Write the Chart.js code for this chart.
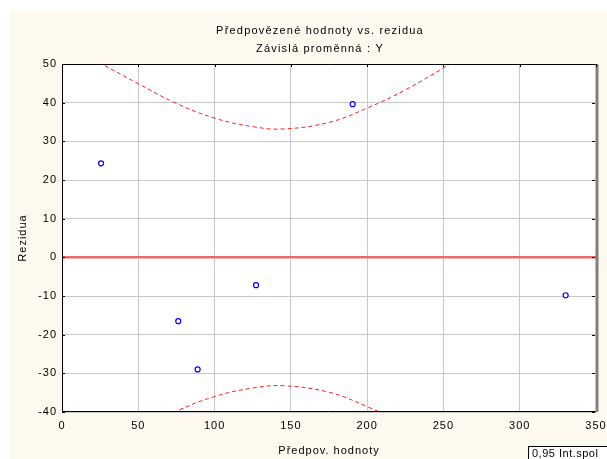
<!DOCTYPE html>
<html>
    <head>
        <meta charset="utf-8">
        <title>Předpovězené hodnoty vs. rezidua</title>
		<script src="https://cdn.jsdelivr.net/npm/chart.js@4/dist/chart.umd.min.js"></script>
		<style>
			body { margin: 0; background: #ffffff; }
			#wrap { width: 607px; height: 459px; }
		</style>
    </head>
    <body>
        <div id="wrap"><canvas id="myChart" width="607" height="459"></canvas></div>

        <script>
		// texts
		var chartTitle = "Předpovězené hodnoty vs. rezidua";
		var chartSubtitle = "Závislá proměnná : Y";
		var xTitle = "Předpov. hodnoty";
		var yTitle = "Rezidua";
		var legendText = "0,95 Int.spol";

		// observations: predicted value vs residual
		var predicted = [25.6, 76.2, 88.9, 127.2, 190.5, 330.1];
		var residuals = [24.3, -16.5, -29.0, -7.2, 39.6, -9.8];

		// 0.95 confidence band
		var bandX = [20, 50, 75, 100, 125, 145, 175, 200, 225, 260];
		var bandUpper = [51.3, 44.9, 39.8, 36.0, 33.8, 33.2, 34.9, 38.6, 43.3, 51.3];
		var bandLower = [-51.3, -44.9, -39.8, -36.0, -33.8, -33.2, -34.9, -38.6, -43.3, -51.3];

		// zero line
		var zeroX = [0, 350];
		var zeroY = [0, 0];

		var xMin = 0, xMax = 350, xStep = 50;
		var yMin = -40, yMax = 50, yStep = 10;

		function pairs(xs, ys) {
			var out = [];
			for (var i = 0; i < xs.length; i++) {
				out.push({x: xs[i], y: ys[i]});
			}
			return out;
		}

		var baseFont = {family: "'Liberation Sans', Arial, sans-serif", size: 11};

		// page background, frame, headings and the clipped legend box
		var decor = {
			id: 'decor',
			beforeLayout: function (chart) {
				chart.ctx.letterSpacing = '1px';
			},
			beforeDraw: function (chart) {
				var ctx = chart.ctx;
				ctx.letterSpacing = '1px';
				ctx.save();
				ctx.fillStyle = '#ffffff';
				ctx.fillRect(0, 0, chart.width, chart.height);
				ctx.fillStyle = '#fdf9ef';
				ctx.fillRect(9, 11, chart.width - 9, chart.height - 11);
				var a = chart.chartArea;
				ctx.fillStyle = '#ffffff';
				ctx.fillRect(a.left, a.top, a.right - a.left, a.bottom - a.top);
				ctx.restore();
			},
			afterDraw: function (chart) {
				var ctx = chart.ctx;
				var a = chart.chartArea;
				ctx.save();
				// frame
				ctx.strokeStyle = '#000000';
				ctx.lineWidth = 1;
				ctx.beginPath();
				ctx.moveTo(a.right, a.top + 0.5);
				ctx.lineTo(a.left + 0.5, a.top + 0.5);
				ctx.lineTo(a.left + 0.5, a.bottom - 0.5);
				ctx.lineTo(a.right, a.bottom - 0.5);
				ctx.stroke();
				ctx.strokeStyle = '#808080';
				ctx.lineWidth = 3;
				ctx.beginPath();
				ctx.moveTo(a.right + 1, a.top);
				ctx.lineTo(a.right + 1, a.bottom);
				ctx.stroke();

				// small inner ticks
				ctx.strokeStyle = '#000000';
				ctx.lineWidth = 1;
				var xs = chart.scales.x, ys = chart.scales.y;
				ctx.beginPath();
				for (var v = yMin; v <= yMax; v += yStep) {
					var py = Math.round(ys.getPixelForValue(v)) + 0.5;
					ctx.moveTo(a.left, py); ctx.lineTo(a.left + 3, py);
					ctx.moveTo(a.right - 1, py); ctx.lineTo(a.right - 4, py);
				}
				for (var u = xMin; u <= xMax; u += xStep) {
					var px = Math.round(xs.getPixelForValue(u)) + 0.5;
					ctx.moveTo(px, a.top); ctx.lineTo(px, a.top + 3);
				}
				ctx.stroke();

				// headings
				ctx.fillStyle = '#000000';
				ctx.font = "11px 'Liberation Sans', Arial, sans-serif";
				ctx.letterSpacing = '1.2px';
				ctx.textAlign = 'center';
				ctx.textBaseline = 'middle';
				ctx.fillText(chartTitle, 320, 31);
				ctx.fillText(chartSubtitle, 320, 49);

				// legend box, cut by the page edge
				ctx.fillStyle = '#ffffff';
				ctx.fillRect(528, 446, 90, 20);
				ctx.strokeStyle = '#000000';
				ctx.strokeRect(528.5, 446.5, 90, 20);
				ctx.fillStyle = '#000000';
				ctx.textAlign = 'left';
				ctx.letterSpacing = '0.5px';
				ctx.fillText(legendText, 532, 454);
				ctx.restore();
			}
		};

		const ctx = document.getElementById('myChart').getContext('2d');
		let myChart = new Chart(ctx, {
			type: 'scatter',
			data: {
				datasets: [{
					label: 'zero',
					data: pairs(zeroX, zeroY),
					showLine: true,
					borderColor: '#ee6a6a',
					borderWidth: 2.5,
					pointRadius: 0
				}, {
					label: 'upper',
					data: pairs(bandX, bandUpper),
					showLine: true,
					tension: 0.4,
					borderColor: '#ff2020',
					borderWidth: 1,
					borderDash: [4, 3],
					pointRadius: 0
				}, {
					label: 'lower',
					data: pairs(bandX, bandLower),
					showLine: true,
					tension: 0.4,
					borderColor: '#ff2020',
					borderWidth: 1,
					borderDash: [4, 3],
					pointRadius: 0
				}, {
					label: 'rezidua',
					data: pairs(predicted, residuals),
					showLine: false,
					pointRadius: 2.5,
					pointBorderWidth: 1.2,
					pointBackgroundColor: '#ffffff',
					pointBorderColor: '#0000ff'
				}]
			},
			options: {
				responsive: false,
				animation: false,
				layout: {
					padding: {top: 64, right: 0, left: 0, bottom: 0}
				},
				plugins: {
					legend: {display: false},
					tooltip: {enabled: false}
				},
				scales: {
					x: {
						type: 'linear',
						min: xMin,
						max: xMax,
						afterFit: function (scale) {
							scale.height = 47;
							scale.paddingRight = 11;
							scale.paddingLeft = 0;
						},
						ticks: {
							stepSize: xStep,
							color: '#000000',
							font: baseFont,
							padding: 7,
							maxRotation: 0
						},
						grid: {
							color: '#c8c8c8',
							drawTicks: false
						},
						border: {display: false},
						title: {
							display: true,
							text: xTitle,
							color: '#000000',
							font: baseFont,
							padding: {top: 0, bottom: 1}
						}
					},
					y: {
						type: 'linear',
						min: yMin,
						max: yMax,
						afterFit: function (scale) { scale.width = 62; },
						ticks: {
							stepSize: yStep,
							color: '#000000',
							font: baseFont,
							padding: 5
						},
						grid: {
							color: '#c8c8c8',
							drawTicks: false
						},
						border: {display: false},
						title: {
							display: true,
							text: yTitle,
							color: '#000000',
							font: baseFont,
							padding: {top: 16, bottom: 0}
						}
					}
				}
			},
			plugins: [decor]
		});
        </script>
    </body>
</html>
